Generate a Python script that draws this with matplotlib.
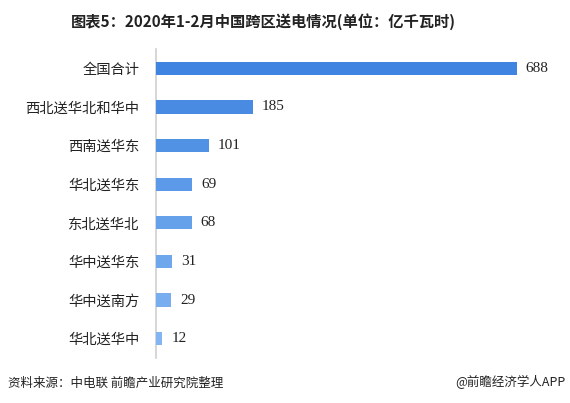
import matplotlib
matplotlib.use('Agg')
import matplotlib.pyplot as plt
import matplotlib.colors as mcolors
import numpy as np

plt.rcParams['font.family'] = ['Noto Sans CJK SC', 'DejaVu Sans']

categories = ['全国合计', '西北送华北和华中', '西南送华东', '华北送华东',
              '东北送华北', '华中送华东', '华中送南方', '华北送华中']
values = [688, 185, 101, 69, 68, 31, 29, 12]

title = '图表5：2020年1-2月中国跨区送电情况(单位：亿千瓦时)'
source = '资料来源：中电联 前瞻产业研究院整理'
brand = '@前瞻经济学人APP'

# bar colours fade from dark blue (top) to light blue (bottom)
c_top = np.array(mcolors.to_rgb('#3F84E0'))
c_bot = np.array(mcolors.to_rgb('#82B5F2'))
n = len(values)
bar_colors = [tuple(c_top + (c_bot - c_top) * i / (n - 1)) for i in range(n)]

fig = plt.figure(figsize=(5.70, 4.03), dpi=100)
ax = fig.add_axes([156 / 570, 1 - 358 / 403, 391 / 570, 309 / 403])

y = np.arange(n)
ax.barh(y, values, height=0.34, color=bar_colors, zorder=3)
ax.set_ylim(n - 0.5, -0.5)
ax.set_xlim(0, 746)

for yi, v in zip(y, values):
    ax.text(v + 17, yi, str(v), va='center', ha='left', fontsize=11,
            family='Liberation Serif', color='#222222')

ax.set_yticks(y)
ax.set_yticklabels(categories, fontsize=10.3, color='#222222')
ax.tick_params(axis='y', length=0, pad=12)
ax.set_xticks([])
for s in ['top', 'right', 'bottom']:
    ax.spines[s].set_visible(False)
ax.spines['left'].set_color('#d0d0d0')
ax.spines['left'].set_linewidth(1.2)

fig.text(263 / 570, 1 - 22 / 403, title, ha='center', va='center', fontsize=11,
         fontweight='bold', color='#222222')
fig.text(8 / 570, 1 - 383 / 403, source, ha='left', va='center', fontsize=9,
         color='#222222')
fig.text(566 / 570, 1 - 382 / 403, brand, ha='right', va='center', fontsize=9,
         color='#222222')

fig.savefig('out.png', dpi=100)
